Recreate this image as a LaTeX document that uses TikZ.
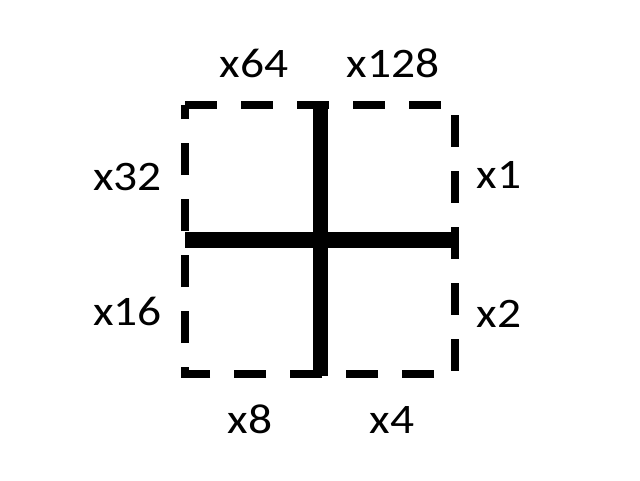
\documentclass[tikz,border=0pt]{standalone}
\usepackage{fontspec}
\setmainfont{Carlito}
\newcommand{\widetxt}[1]{\scalebox{1.13}[1]{#1}}
\begin{document}
\begin{tikzpicture}[x=1pt,y=-1pt,
  lbl/.style={anchor=base,inner sep=0pt,font=\fontsize{42}{50}\selectfont},
  frame/.style={line width=8pt,dash pattern=on 32pt off 24pt,line join=miter},
  bar/.style={line width=15.5pt}]
\useasboundingbox (0,0) rectangle (640,480);
\coordinate (tl) at (185,105);
\coordinate (tr) at (455,105);
\coordinate (br) at (455,374);
\coordinate (bl) at (185,374);
\draw[frame] (tl) -- (tr) -- (br) -- (bl) -- cycle;
\coordinate (vt) at (320.5,101);
\coordinate (vb) at (320.5,376);
\coordinate (hl) at (185,240);
\coordinate (hr) at (459,240);
\draw[bar] (vt) -- (vb);
\draw[bar] (hl) -- (hr);
\node[lbl] (n64) at (254,77) {\widetxt{x64}};
\node[lbl] (n128) at (393,77) {\widetxt{x128}};
\node[lbl] (n32) at (127.5,190) {\widetxt{x32}};
\node[lbl] (n16) at (127.5,325) {\widetxt{x16}};
\node[lbl] (n1) at (499,188) {\widetxt{x1}};
\node[lbl] (n2) at (499,327) {\widetxt{x2}};
\node[lbl] (n8) at (250,433) {\widetxt{x8}};
\node[lbl] (n4) at (392,433) {\widetxt{x4}};
\end{tikzpicture}
\end{document}
